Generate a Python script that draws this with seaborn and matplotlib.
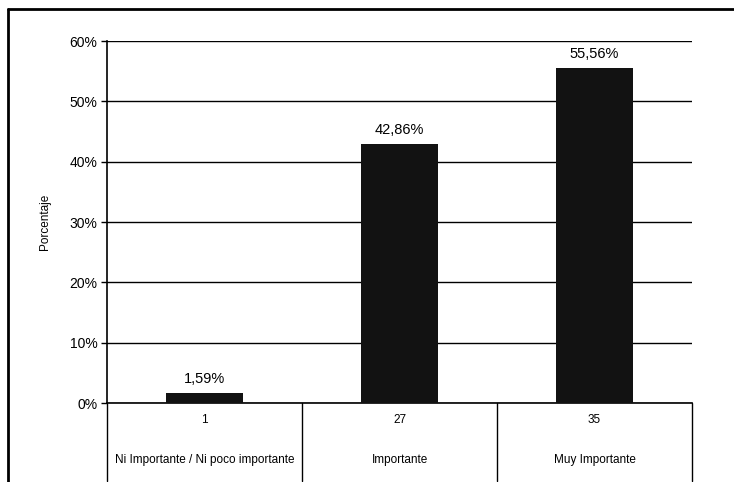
import matplotlib
matplotlib.use("Agg")
import matplotlib.pyplot as plt
import matplotlib.transforms as mtransforms
from matplotlib.lines import Line2D
import seaborn as sns
import pandas as pd

categorias = ["Ni Importante / Ni poco importante", "Importante", "Muy Importante"]
frecuencias = [1, 27, 35]
porcentajes = [1.59, 42.86, 55.56]
etiquetas_valor = ["1,59%", "42,86%", "55,56%"]
ticks_y = [0, 10, 20, 30, 40, 50, 60]

df = pd.DataFrame({"categoria": categorias, "porcentaje": porcentajes})

sns.set_theme(style="white")
plt.rcParams["font.family"] = ["Liberation Sans", "DejaVu Sans"]

fig = plt.figure(figsize=(7.34, 4.82), dpi=100)
ax = fig.add_axes([0.1458, 0.1639, 0.797, 0.751])

sns.barplot(data=df, x="categoria", y="porcentaje", color="#121212",
            width=0.39, saturation=1, linewidth=0, ax=ax, zorder=3)

ax.set_ylim(0, 60)
ax.set_xlim(-0.5, 2.5)
ax.set_yticks(ticks_y)
ax.set_yticklabels([f"{t}%" for t in ticks_y], fontsize=10, color="black")
ax.tick_params(axis="y", which="both", left=True, length=4, width=1,
               color="black", pad=3)
ax.set_xticks([])
ax.set_xlabel("")
ax.set_ylabel("Porcentaje", fontsize=8.5, color="black")
ax.yaxis.set_label_coords(-0.095, 0.5)

ax.grid(axis="y", color="black", linewidth=1, zorder=0)
ax.set_axisbelow(True)
for side in ["top", "right"]:
    ax.spines[side].set_visible(False)
for side in ["left", "bottom"]:
    ax.spines[side].set_color("black")
    ax.spines[side].set_linewidth(1.2)

# value labels above each bar
for i, (p, lab) in enumerate(zip(porcentajes, etiquetas_valor)):
    ax.annotate(lab, (i, p), xytext=(0, 5), textcoords="offset points",
                ha="center", va="bottom", fontsize=10.5, color="black")

# data table under the axis: counts and category names
trans = mtransforms.blended_transform_factory(ax.transData, ax.transAxes)
for i, (n, cat) in enumerate(zip(frecuencias, categorias)):
    ax.text(i, -0.048, str(n), transform=trans, ha="center", va="center",
            fontsize=8.5, color="black")
    ax.text(i, -0.157, cat, transform=trans, ha="center", va="center",
            fontsize=8.5, color="black")
for xb in [-0.5, 0.5, 1.5, 2.5]:
    ax.add_line(Line2D([xb, xb], [0, -0.215], transform=trans,
                       color="black", linewidth=1, clip_on=False))

# outer chart frame (top and left edges)
x0, y0 = 8 / 734, 1 - 9 / 482
fig.add_artist(Line2D([x0, 1], [y0, y0], transform=fig.transFigure,
                      color="black", linewidth=2))
fig.add_artist(Line2D([x0, x0], [0, y0], transform=fig.transFigure,
                      color="black", linewidth=2))

fig.savefig("out.png", dpi=100)
